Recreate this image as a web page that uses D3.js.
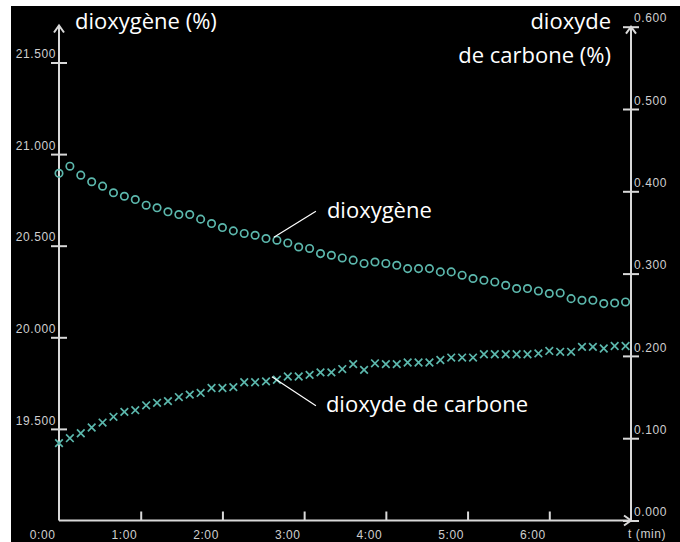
<!DOCTYPE html>
<html>
<head>
<meta charset="utf-8">
<script src="https://cdn.jsdelivr.net/npm/d3@7"></script>
<style>
  body { margin: 0; background: #fff; }
  svg { display: block; }
</style>
</head>
<body>
<div id="chart"></div>
<script>
// time in seconds (one reading every 8 s)
const times = [0, 8, 16, 24, 32, 40, 48, 56, 64, 72, 80, 88, 96, 104, 112, 120, 128, 136,
    144, 152, 160, 168, 176, 184, 192, 200, 208, 216, 224, 232, 240, 248, 256, 264, 272,
    280, 288, 296, 304, 312, 320, 328, 336, 344, 352, 360, 368, 376, 384, 392, 400, 408, 416];

// dioxygène (%)
const oxygen = [20.895, 20.934, 20.885, 20.849, 20.825, 20.789, 20.770, 20.752, 20.721, 20.707,
    20.685, 20.670, 20.670, 20.645, 20.621, 20.599, 20.581, 20.567, 20.557, 20.539,
    20.530, 20.515, 20.493, 20.485, 20.457, 20.448, 20.433, 20.421, 20.403, 20.411,
    20.403, 20.393, 20.375, 20.375, 20.375, 20.357, 20.357, 20.339, 20.321, 20.311,
    20.302, 20.284, 20.266, 20.266, 20.253, 20.239, 20.242, 20.211, 20.202, 20.202,
    20.184, 20.187, 20.193];

// dioxyde de carbone (%)
const carbon = [0.094, 0.100, 0.106, 0.113, 0.119, 0.126, 0.132, 0.134, 0.140, 0.143,
    0.145, 0.150, 0.153, 0.155, 0.161, 0.161, 0.162, 0.168, 0.168, 0.169,
    0.171, 0.175, 0.175, 0.177, 0.180, 0.180, 0.184, 0.190, 0.183, 0.191,
    0.190, 0.190, 0.192, 0.192, 0.192, 0.195, 0.198, 0.198, 0.198, 0.202,
    0.202, 0.202, 0.202, 0.202, 0.203, 0.206, 0.205, 0.205, 0.211, 0.211,
    0.209, 0.212, 0.212];

const xTicks = [0, 60, 120, 180, 240, 300, 360];
const xTickLabels = ["0:00", "1:00", "2:00", "3:00", "4:00", "5:00", "6:00"];
const leftTicks = [19.5, 20.0, 20.5, 21.0, 21.5];
const rightTicks = [0, 0.1, 0.2, 0.3, 0.4, 0.5, 0.6];

const width = 680, height = 542;
const markColor = "#5cb8ad";
const axisColor = "#d9d9d9";
const labelFont = "Liberation Sans, Arial, sans-serif";
const titleFont = "'Open Sans', 'Noto Sans', sans-serif";

const svg = d3.select("#chart").append("svg")
    .attr("width", width)
    .attr("height", height);

// black panel (white strip left/top like the screenshot)
svg.append("rect")
    .attr("x", 11).attr("y", 6)
    .attr("width", width - 11).attr("height", height - 6)
    .attr("fill", "#000");

// Scales
const x = d3.scaleLinear().domain([0, 420]).range([59, 631]);
const yO = d3.scaleLinear().domain([19, 21.5]).range([520.5, 62.5]);
const yC = d3.scaleLinear().domain([0, 0.6]).range([520.5, 26.7]);

// Left axis
const leftAxis = svg.append("g")
    .attr("transform", `translate(${x(0)},0)`)
    .call(d3.axisLeft(yO).tickValues(leftTicks).tickFormat(d3.format(".3f")).tickSizeOuter(0));
leftAxis.select(".domain").remove();
leftAxis.selectAll(".tick line").attr("x1", -8).attr("x2", 8);
leftAxis.selectAll(".tick text").attr("x", -3).attr("dy", "-0.4em");

// Right axis
const rightAxis = svg.append("g")
    .attr("transform", `translate(${x(420)},0)`)
    .call(d3.axisRight(yC).tickValues(rightTicks).tickFormat(d3.format(".3f")).tickSizeOuter(0));
rightAxis.select(".domain").remove();
rightAxis.selectAll(".tick line").attr("x1", -8).attr("x2", 8);
rightAxis.selectAll(".tick text").attr("x", 3).attr("dy", "-0.4em");

// Bottom axis
const bottomAxis = svg.append("g")
    .attr("transform", `translate(0,${yO(19)})`)
    .call(d3.axisBottom(x).tickValues(xTicks).tickFormat((d, i) => xTickLabels[i]).tickSizeOuter(0));
bottomAxis.select(".domain").remove();
bottomAxis.selectAll(".tick line").attr("y1", 0).attr("y2", -9);
bottomAxis.selectAll(".tick text")
    .attr("text-anchor", "end")
    .attr("x", -4).attr("y", 18).attr("dy", 0);
bottomAxis.selectAll(".tick").filter(d => d === 0).select("line").remove();

[leftAxis, rightAxis, bottomAxis].forEach(g => {
    g.selectAll(".tick line").attr("stroke", axisColor).attr("stroke-width", 2);
    g.selectAll(".tick text")
        .attr("fill", "#cfcfcf")
        .style("font-family", labelFont)
        .style("font-size", "12px")
        .style("letter-spacing", "0.6px");
});

// Axis lines with arrows
const axisLines = svg.append("g")
    .attr("stroke", axisColor)
    .attr("stroke-width", 2)
    .attr("fill", "none");
axisLines.append("line")
    .attr("x1", x(0)).attr("x2", x(0))
    .attr("y1", yO(19)).attr("y2", yO(21.5) - 37);
axisLines.append("path")
    .attr("d", `M${x(0) - 5},${yO(21.5) - 30}L${x(0)},${yO(21.5) - 37}L${x(0) + 5},${yO(21.5) - 30}`);
axisLines.append("line")
    .attr("x1", x(420)).attr("x2", x(420))
    .attr("y1", yC(0)).attr("y2", yC(0.6));
axisLines.append("path")
    .attr("d", `M${x(420) - 5},${yC(0.6) + 7}L${x(420)},${yC(0.6)}L${x(420) + 5},${yC(0.6) + 7}`);
axisLines.append("line")
    .attr("x1", x(0)).attr("x2", x(420))
    .attr("y1", yO(19)).attr("y2", yO(19));
axisLines.append("path")
    .attr("d", `M${x(420) - 7},${yO(19) - 5}L${x(420)},${yO(19)}L${x(420) - 7},${yO(19) + 5}`);

svg.append("text")
    .attr("x", x(420) - 3).attr("y", 538)
    .attr("fill", "#cfcfcf")
    .style("font-family", labelFont)
    .style("font-size", "12px")
    .style("letter-spacing", "0.6px")
    .text("t (min)");

// Oxygen: circles
svg.append("g").selectAll("circle")
    .data(times)
    .enter().append("circle")
    .attr("cx", d => x(d))
    .attr("cy", (d, i) => yO(oxygen[i]))
    .attr("r", 3.7)
    .attr("fill", "none")
    .attr("stroke", markColor)
    .attr("stroke-width", 1.7);

// Carbon dioxide: crosses
const s = 3.8;
svg.append("g").selectAll("path")
    .data(times)
    .enter().append("path")
    .attr("d", (d, i) => {
        const cx = x(d), cy = yC(carbon[i]);
        return `M${cx - s},${cy - s}L${cx + s},${cy + s}M${cx - s},${cy + s}L${cx + s},${cy - s}`;
    })
    .attr("stroke", markColor)
    .attr("stroke-width", 1.7);

// Titles
const title = (tx, ty, anchor, str) => svg.append("text")
    .attr("x", tx).attr("y", ty)
    .attr("text-anchor", anchor)
    .attr("fill", "#fff")
    .style("font-family", titleFont)
    .style("font-size", "22px")
    .text(str);

title(75, 29, "start", "dioxygène (%)");
title(611, 29, "end", "dioxyde");
title(611, 63, "end", "de carbone (%)");

// Annotations with leader lines
const ai = 20;
const o2x = x(times[ai]) - 3, o2y = yO(oxygen[ai]) - 3;
svg.append("line")
    .attr("x1", o2x).attr("y1", o2y)
    .attr("x2", o2x + 42).attr("y2", o2y - 26)
    .attr("stroke", "#fff").attr("stroke-width", 1.2);
title(o2x + 53, o2y - 19, "start", "dioxygène");

const co2x = x(times[ai]) - 5, co2y = yC(carbon[ai]) - 3;
svg.append("line")
    .attr("x1", co2x).attr("y1", co2y)
    .attr("x2", co2x + 44).attr("y2", co2y + 29)
    .attr("stroke", "#fff").attr("stroke-width", 1.2);
title(co2x + 54, co2y + 35, "start", "dioxyde de carbone");
</script>
</body>
</html>
